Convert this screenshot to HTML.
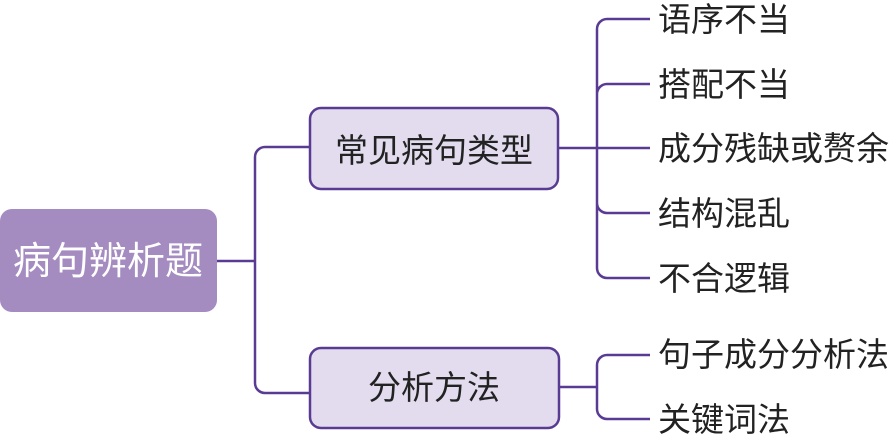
<!DOCTYPE html>
<html><head><meta charset="utf-8"><style>
html,body{margin:0;padding:0;background:#fff;width:895px;height:439px;overflow:hidden}
text{font-family:"Liberation Sans","Noto Sans CJK SC",sans-serif}
</style></head><body>
<svg width="895" height="439" viewBox="0 0 895 439" xmlns="http://www.w3.org/2000/svg">
<g fill="none" stroke="#5a3b94" stroke-width="2.5">
<path d="M217 261 H255 M265 147 H309 M265 393 H309 M255 157 V383 M265 147 A10 10 0 0 0 255 157 M255 383 A10 10 0 0 0 265 393"/>
<path d="M558 148 H650 M607 19 H650 M607 278 H650 M597 29 V268 M607 19 A10 10 0 0 0 597 29 M597 268 A10 10 0 0 0 607 278 M597 94 A10 10 0 0 1 607 84 H650 M597 203 A10 10 0 0 0 607 213 H650"/>
<path d="M559 387 H597 M607 355 H650 M607 419 H650 M597 365 V409 M607 355 A10 10 0 0 0 597 365 M597 409 A10 10 0 0 0 607 419"/>
</g>
<rect x="0" y="209" width="217" height="103" rx="12" fill="#a48bc0"/>
<text x="108" y="274" font-size="38" fill="#fff" text-anchor="middle">病句辨析题</text>
<rect x="310" y="108" width="248" height="81" rx="11" fill="#e2dcee" stroke="#5a3b94" stroke-width="2.5"/>
<text x="434" y="162" font-size="33" fill="#222" text-anchor="middle">常见病句类型</text>
<rect x="310" y="348" width="249" height="80" rx="11" fill="#e2dcee" stroke="#5a3b94" stroke-width="2.5"/>
<text x="434" y="399" font-size="33" fill="#222" text-anchor="middle">分析方法</text>
<g font-size="33" fill="#222">
<text x="658" y="31">语序不当</text>
<text x="658" y="96">搭配不当</text>
<text x="658" y="160">成分残缺或赘余</text>
<text x="658" y="225">结构混乱</text>
<text x="658" y="290">不合逻辑</text>
<text x="658" y="366">句子成分分析法</text>
<text x="658" y="431">关键词法</text>
</g>
</svg>
</body></html>
